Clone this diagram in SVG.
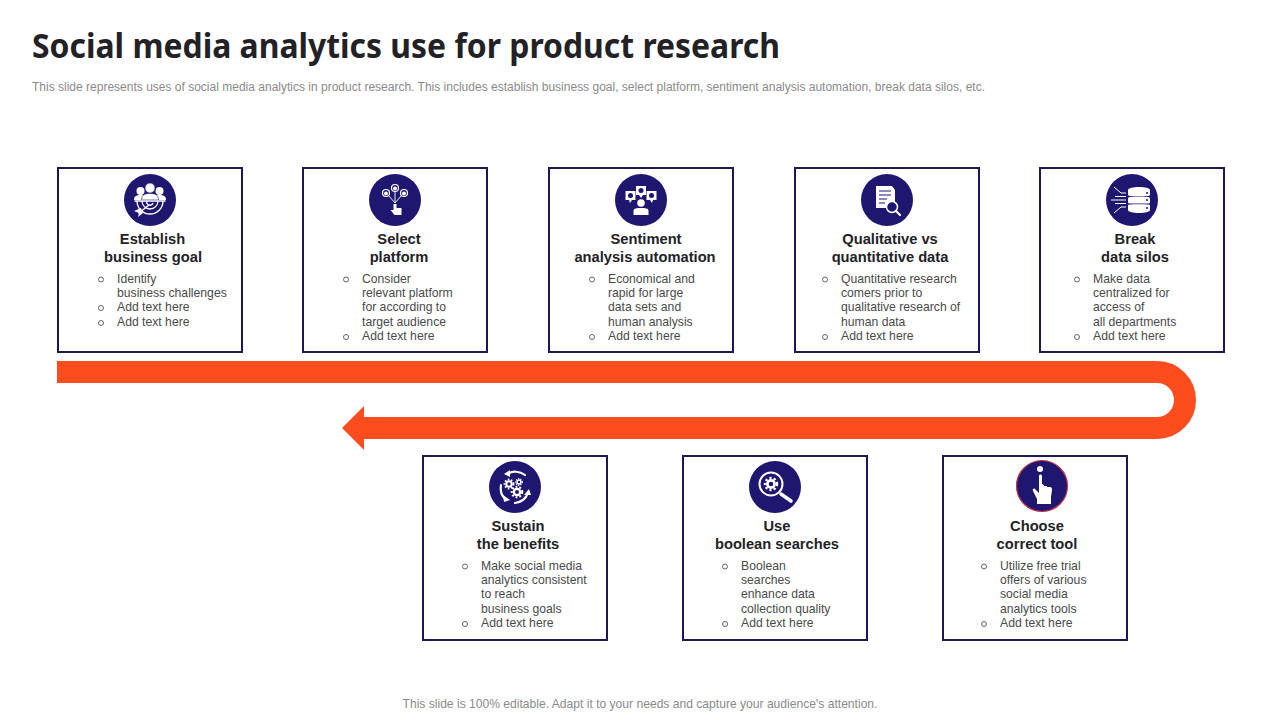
<svg xmlns="http://www.w3.org/2000/svg" width="1280" height="720" viewBox="0 0 1280 720">
<style>
text{font-family:"Liberation Sans",Arial,sans-serif}
.title{font-family:"Noto Sans","Open Sans",sans-serif;font-weight:700;font-size:34px;fill:#222226}
.sub{font-size:12px;fill:#8a8a8a}
.box{fill:#fff;stroke:#1d1755;stroke-width:2}
.disc{fill:#1f1670}
.h{font-size:14.7px;font-weight:700;fill:#222226;text-anchor:middle}
.b{font-size:12.2px;fill:#4a4a4a}
.dot{fill:none;stroke:#555;stroke-width:.9}
.w{fill:#fff}
.l{fill:none;stroke:#fff;stroke-width:1.4;stroke-linecap:round}
.l2{fill:none;stroke:#fff;stroke-width:2.2;stroke-linecap:round}
.n{fill:#1f1670}
</style>
<defs>
<circle id="o" r="2.500" class="dot"/>
<g id="gear"><circle r="3" fill="none" stroke="#fff" stroke-width="2.200"/><circle r="5" fill="none" stroke="#fff" stroke-width="2" stroke-dasharray="1.800 1.800"/></g>
</defs>
<rect width="1280" height="720" fill="#fff"/>
<text class="title" x="32" y="58" textLength="748" lengthAdjust="spacingAndGlyphs">Social media analytics use for product research</text>
<text class="sub" x="32" y="91" textLength="953" lengthAdjust="spacing">This slide represents uses of social media analytics in product research. This includes establish business goal, select platform, sentiment analysis automation, break data silos, etc.</text>

<g id="connectors">
<path d="M57 372H1157A28 28 0 0 1 1157 428H362" fill="none" stroke="#fd4d1f" stroke-width="22"/>
<polygon points="342,428 364,406 364,450" fill="#fd4d1f"/>
</g>

<g id="node-establish">
<rect class="box" x="58" y="168" width="184" height="184"/>
<circle class="disc" cx="150" cy="200" r="26"/>
<g transform="translate(150 200)">
<circle cx="-9.500" cy="-9" r="4" class="w"/><circle cx="9.500" cy="-9" r="4" class="w"/>
<path d="M-16 0C-16-5-12-5-8-5H8C12-5 16-5 16 0Z" class="w"/>
<circle cx="0" cy="-12" r="5" class="w" stroke="#1f1670" stroke-width=".6"/><path d="M-8.500 0C-8.500-6-4-6.500 0-6.500S8.500-6 8.500 0Z" class="w" stroke="#1f1670" stroke-width=".6"/>
<path d="M-15 1H15" class="l"/>
<path d="M-13 1A13 13 0 0 0 13 1M-8 1A8 8 0 0 0 8 1M-3 1A3 3 0 0 0 3 3" fill="none" stroke="#fff" stroke-width="1.300"/>
<path d="M-1 5L-11 13" class="l"/><path d="M-9 8L-16 11L-11 13L-12 17L-7 13Z" class="w"/>
</g>
<text class="h" x="152.500" y="244">Establish</text>
<text class="h" x="153" y="262">business goal</text>
<use href="#o" x="101" y="279.500"/><text class="b" x="117" y="283">Identify</text>
<text class="b" x="117" y="297">business challenges</text>
<use href="#o" x="101" y="308"/><text class="b" x="117" y="311">Add text here</text>
<use href="#o" x="101" y="323"/><text class="b" x="117" y="326">Add text here</text>
</g>

<g id="node-platform">
<rect class="box" x="303" y="168" width="184" height="184"/>
<circle class="disc" cx="395" cy="200" r="26"/>
<g transform="translate(395 200)">
<g fill="none" stroke="#fff" stroke-width="1.200"><circle cx="-9" cy="-7" r="3.500"/><circle cx="0" cy="-12" r="3.500"/><circle cx="9" cy="-7" r="3.500"/></g>
<circle cx="-9" cy="-6.500" r="2" class="w"/><circle cx="0" cy="-11.500" r="2" class="w"/><circle cx="9" cy="-6.500" r="2" class="w"/>
<path d="M-6-4L0 3M0-8V3M6-4L0 3" stroke="#fff" stroke-width=".9" fill="none"/>
<path d="M-1.500 4H1.500V8H6.500V15H-.5L-4.500 10H-1.500Z" class="w"/>
</g>
<text class="h" x="399" y="244">Select</text>
<text class="h" x="399" y="262">platform</text>
<use href="#o" x="346" y="279.500"/><text class="b" x="362" y="283">Consider</text>
<text class="b" x="362" y="297">relevant platform</text>
<text class="b" x="362" y="311">for according to</text>
<text class="b" x="362" y="326">target audience</text>
<use href="#o" x="346" y="337"/><text class="b" x="362" y="340">Add text here</text>
</g>

<g id="node-sentiment">
<rect class="box" x="549" y="168" width="184" height="184"/>
<circle class="disc" cx="641" cy="200" r="26"/>
<g transform="translate(641 200)">
<path d="M-15.500-9H-5.500V0H-9L-11 3L-12 0H-15.500Z" class="w"/><path d="M-5-14H5V-5H2L0-2L-2-5H-5Z" class="w"/><path d="M5.500-9H15.500V0H12L11 3L9 0H5.500Z" class="w"/>
<circle cx="-10.500" cy="-4.500" r="2.500" class="n"/><circle cx="0" cy="-9.500" r="2.500" class="n"/><circle cx="10.500" cy="-4.500" r="2.500" class="n"/>
<circle cy="3" r="3.800" class="w"/><path d="M-7.500 15V11C-7.500 8-4 8 0 8S7.500 8 7.500 11V15Z" class="w"/>
</g>
<text class="h" x="646" y="244">Sentiment</text>
<text class="h" x="645" y="262">analysis  automation</text>
<use href="#o" x="592" y="279.500"/><text class="b" x="608" y="283">Economical and</text>
<text class="b" x="608" y="297">rapid for large</text>
<text class="b" x="608" y="311">data sets and</text>
<text class="b" x="608" y="326">human analysis</text>
<use href="#o" x="592" y="337"/><text class="b" x="608" y="340">Add text here</text>
</g>

<g id="node-qualitative">
<rect class="box" x="795" y="168" width="184" height="184"/>
<circle class="disc" cx="887" cy="200" r="26"/>
<g transform="translate(887 200)">
<path d="M-11-14H5L8-10V8H-11Z" class="w"/>
<path d="M-8-9H4M-8-5H4M-8-1H0M-8 3H-2" stroke="#1f1670" stroke-width="1.200"/>
<circle cx="5" cy="7" r="5.500" fill="#1f1670" stroke="#fff" stroke-width="1.500"/>
<path d="M9 11L13 15" class="l2"/>
</g>
<text class="h" x="890" y="244">Qualitative vs</text>
<text class="h" x="890" y="262">quantitative data</text>
<use href="#o" x="825" y="279.500"/><text class="b" x="841" y="283">Quantitative research</text>
<text class="b" x="841" y="297">comers prior to</text>
<text class="b" x="841" y="311">qualitative research of</text>
<text class="b" x="841" y="326">human data</text>
<use href="#o" x="825" y="337"/><text class="b" x="841" y="340">Add text here</text>
</g>

<g id="node-silos">
<rect class="box" x="1040" y="168" width="184" height="184"/>
<circle class="disc" cx="1132" cy="200" r="26"/>
<g transform="translate(1132 200)">
<path d="M-4-10C-4-14 18-14 18-10V-5C18-3-4-3-4-5Z" class="w"/><rect x="-4" y="-3" width="22" height="6.500" rx="1.500" class="w"/><path d="M-4 5C-4 4 18 4 18 5V10C18 14-4 14-4 10Z" class="w"/>
<circle cx="15" cy="-7" r="1" class="n"/><circle cx="15" cy="0" r="1" class="n"/><circle cx="15" cy="8" r="1" class="n"/>
<path d="M-18-13L-11-7H-6M-21 0H-6M-17-3.500H-6M-17 3.500H-6M-18 13L-11 7H-6" stroke="#fff" stroke-width="1" fill="none"/>
</g>
<text class="h" x="1135" y="244">Break</text>
<text class="h" x="1135" y="262">data silos</text>
<use href="#o" x="1077" y="279.500"/><text class="b" x="1093" y="283">Make data</text>
<text class="b" x="1093" y="297">centralized for</text>
<text class="b" x="1093" y="311">access of</text>
<text class="b" x="1093" y="326">all departments</text>
<use href="#o" x="1077" y="337"/><text class="b" x="1093" y="340">Add text here</text>
</g>

<g id="node-sustain">
<rect class="box" x="423" y="456" width="184" height="184"/>
<circle class="disc" cx="515" cy="487" r="26"/>
<g transform="translate(515 487)">
<g transform="translate(-6 -3) scale(.9)"><use href="#gear"/></g>
<g transform="translate(4 -5) scale(.65)"><use href="#gear"/></g>
<g transform="translate(2 5) scale(1.050)"><use href="#gear"/></g>
<path d="M-8-13A16 16 0 0 1 10-12" class="l2"/><path d="M-5-17L-11-13L-5-10Z" class="w"/>
<path d="M-9 13A16 16 0 0 1-14-2" class="l2"/><path d="M-12 8L-5 13L-11 15Z" class="w"/>
<path d="M0 16A16 16 0 0 0 13 6" class="l2"/><path d="M9 8L16 8L14 2Z" class="w"/>
</g>
<text class="h" x="518" y="531">Sustain</text>
<text class="h" x="518" y="549">the benefits</text>
<use href="#o" x="465" y="566.500"/><text class="b" x="481" y="570">Make social media</text>
<text class="b" x="481" y="584">analytics consistent</text>
<text class="b" x="481" y="598">to reach</text>
<text class="b" x="481" y="613">business goals</text>
<use href="#o" x="465" y="624"/><text class="b" x="481" y="627">Add text here</text>
</g>

<g id="node-boolean">
<rect class="box" x="683" y="456" width="184" height="184"/>
<circle class="disc" cx="775" cy="487" r="26"/>
<g transform="translate(775 487)">
<circle cx="-4" cy="-3" r="11.500" fill="none" stroke="#fff" stroke-width="2"/>
<g transform="translate(-4 -3) scale(1.200)"><use href="#gear"/></g>
<path d="M6 7L16 14" fill="none" stroke="#fff" stroke-width="3.500" stroke-linecap="round"/>
</g>
<text class="h" x="777" y="531">Use</text>
<text class="h" x="777" y="549">boolean searches</text>
<use href="#o" x="725" y="566.500"/><text class="b" x="741" y="570">Boolean</text>
<text class="b" x="741" y="584">searches</text>
<text class="b" x="741" y="598">enhance data</text>
<text class="b" x="741" y="613">collection quality</text>
<use href="#o" x="725" y="624"/><text class="b" x="741" y="627">Add text here</text>
</g>

<g id="node-tool">
<rect class="box" x="943" y="456" width="184" height="184"/>
<circle class="disc" cx="1042" cy="486" r="25.500" stroke="#c0344a" stroke-width="1.200"/>
<g transform="translate(1042 486)">
<circle cx="-2" cy="-17" r="3" class="w"/>
<path d="M-3-10C-3-12 0-12 0-10V-2L2-1V0L5 0V1L8 1C10 1 10 3 10 4L9 11V18H-5V13L-9 5C-10 3-8 2-7 3L-3 7Z" class="w"/>
</g>
<text class="h" x="1037" y="531">Choose</text>
<text class="h" x="1037" y="549">correct tool</text>
<use href="#o" x="984" y="566.500"/><text class="b" x="1000" y="570">Utilize free trial</text>
<text class="b" x="1000" y="584">offers of various</text>
<text class="b" x="1000" y="598">social media</text>
<text class="b" x="1000" y="613">analytics tools</text>
<use href="#o" x="984" y="624"/><text class="b" x="1000" y="627">Add text here</text>
</g>

<text x="640" y="708" text-anchor="middle" style="font-size:12.100px;fill:#8a8a8a">This slide is 100% editable. Adapt it to your needs and capture your audience's attention.</text>
</svg>
